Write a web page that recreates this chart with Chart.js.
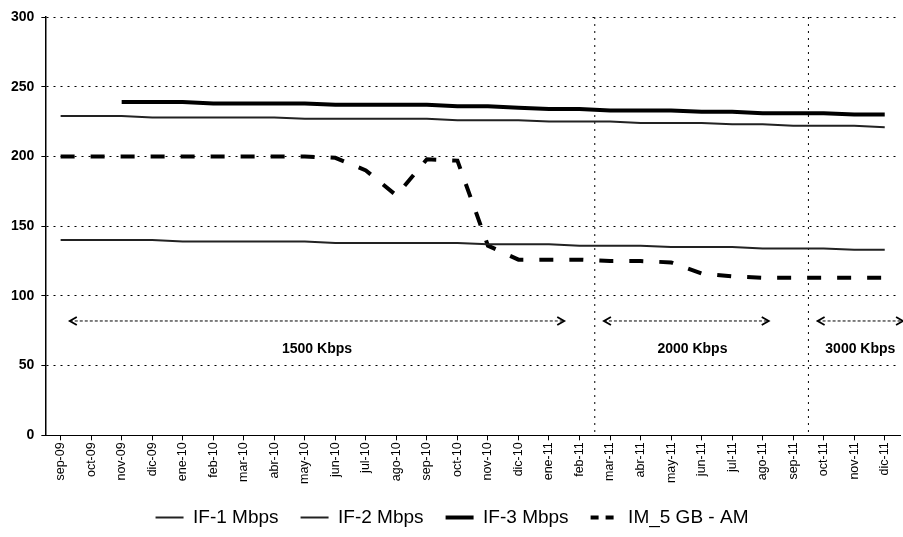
<!DOCTYPE html>
<html>
<head>
<meta charset="utf-8">
<script src="https://cdn.jsdelivr.net/npm/chart.js@4.4.0/dist/chart.umd.min.js"></script>
<style>
  html, body { margin: 0; padding: 0; background: #fff; }
  #wrap { width: 903px; height: 537px; }
</style>
</head>
<body>
<div id="wrap"><canvas id="chart" width="903" height="537"></canvas></div>
<script>
// Months, Sept 2009 to Dec 2011
const months = ['sep-09', 'oct-09', 'nov-09', 'dic-09', 'ene-10', 'feb-10', 'mar-10', 'abr-10',
    'may-10', 'jun-10', 'jul-10', 'ago-10', 'sep-10', 'oct-10', 'nov-10', 'dic-10', 'ene-11',
    'feb-11', 'mar-11', 'abr-11', 'may-11', 'jun-11', 'jul-11', 'ago-11', 'sep-11', 'oct-11',
    'nov-11', 'dic-11'];

const if1 = [229, 229, 229, 228, 228, 228, 228, 228, 227, 227, 227, 227, 227, 226, 226, 226, 225,
    225, 225, 224, 224, 224, 223, 223, 222, 222, 222, 221];
const if2 = [140, 140, 140, 140, 139, 139, 139, 139, 139, 138, 138, 138, 138, 138, 137, 137, 137,
    136, 136, 136, 135, 135, 135, 134, 134, 134, 133, 133];
const if3 = [null, null, 239, 239, 239, 238, 238, 238, 238, 237, 237, 237, 237, 236, 236, 235, 234,
    234, 233, 233, 233, 232, 232, 231, 231, 231, 230, 230];
const im5 = [200, 200, 200, 200, 200, 200, 200, 200, 200, 199, 190, 172, 198, 197, 136, 126, 126,
    126, 125, 125, 124, 116, 114, 113, 113, 113, 113, 113];

const yTicks = [0, 50, 100, 150, 200, 250, 300];

// speed periods (arrows + labels below the lines)
const rateLabels = ['1500 Kbps', '2000 Kbps', '3000 Kbps'];

const FONT = '"Liberation Sans", Arial, sans-serif';

// draws the period separators, the double arrows and the Kbps labels
const periodPlugin = {
    id: 'periods',
    beforeDatasetsDraw(chart) {
        const { ctx, chartArea, scales: { x } } = chart;
        ctx.save();
        ctx.strokeStyle = '#000';
        ctx.lineWidth = 1;
        ctx.setLineDash([2, 5]);
        [17.5, 24.5].forEach(v => {
            const px = x.getPixelForValue(v);
            ctx.beginPath();
            ctx.moveTo(px, chartArea.top);
            ctx.lineTo(px, chartArea.bottom);
            ctx.stroke();
        });
        ctx.restore();
    },
    afterDatasetsDraw(chart) {
        const { ctx, scales: { x, y } } = chart;
        const spans = [[0.3, 16.5, 8.4], [17.8, 23.2, 20.7], [24.8, 27.6, 26.2]];
        const ay = y.getPixelForValue(82);
        const ty = y.getPixelForValue(62);
        ctx.save();
        ctx.strokeStyle = '#000';
        ctx.fillStyle = '#000';
        spans.forEach((s, i) => {
            const x0 = x.getPixelForValue(s[0]);
            const x1 = x.getPixelForValue(s[1]);
            ctx.lineWidth = 1;
            ctx.setLineDash([3, 2]);
            ctx.beginPath();
            ctx.moveTo(x0, ay);
            ctx.lineTo(x1, ay);
            ctx.stroke();
            ctx.setLineDash([]);
            ctx.lineWidth = 1.8;
            ctx.beginPath();
            ctx.moveTo(x0 + 7, ay - 4);
            ctx.lineTo(x0, ay);
            ctx.lineTo(x0 + 7, ay + 4);
            ctx.moveTo(x1 - 7, ay - 4);
            ctx.lineTo(x1, ay);
            ctx.lineTo(x1 - 7, ay + 4);
            ctx.stroke();
            ctx.font = 'bold 14px ' + FONT;
            ctx.textAlign = 'center';
            ctx.textBaseline = 'middle';
            ctx.fillText(rateLabels[i], x.getPixelForValue(s[2]), ty);
        });
        ctx.restore();
    }
};

const ctx = document.getElementById('chart').getContext('2d');

new Chart(ctx, {
    type: 'line',
    data: {
        labels: months,
        datasets: [{
            label: 'IF-1 Mbps',
            data: if1,
            borderColor: '#222',
            backgroundColor: '#222',
            borderWidth: 2,
            pointRadius: 0,
            pointStyle: 'line',
            tension: 0
        }, {
            label: 'IF-2 Mbps',
            data: if2,
            borderColor: '#222',
            backgroundColor: '#222',
            borderWidth: 2,
            pointRadius: 0,
            pointStyle: 'line',
            tension: 0
        }, {
            label: 'IF-3 Mbps',
            data: if3,
            borderColor: '#000',
            backgroundColor: '#000',
            borderWidth: 4,
            pointRadius: 0,
            pointStyle: 'line',
            tension: 0
        }, {
            label: 'IM_5 GB - AM',
            data: im5,
            borderColor: '#000',
            backgroundColor: '#000',
            borderWidth: 4,
            borderDash: [14, 16],
            pointRadius: 0,
            pointStyle: 'line',
            tension: 0
        }]
    },
    options: {
        responsive: false,
        animation: false,
        layout: {
            padding: { top: 17, left: 4, right: 3, bottom: 0 }
        },
        plugins: {
            title: { display: false },
            tooltip: { enabled: false },
            legend: {
                display: true,
                position: 'bottom',
                labels: {
                    usePointStyle: true,
                    pointStyleWidth: 28,
                    boxHeight: 8,
                    color: '#000',
                    padding: 22,
                    font: { family: FONT, size: 19 },
                    generateLabels: (chart) => {
                        const items = Chart.defaults.plugins.legend.labels.generateLabels(chart);
                        items.forEach(item => {
                            const ds = chart.data.datasets[item.datasetIndex];
                            item.lineWidth = ds.borderWidth;
                            item.lineDash = ds.borderDash ? [8, 7] : [];
                        });
                        return items;
                    }
                }
            }
        },
        scales: {
            y: {
                min: 0,
                max: 300,
                afterBuildTicks: (axis) => {
                    axis.ticks = yTicks.map(v => ({ value: v }));
                },
                ticks: {
                    color: '#000',
                    padding: 7,
                    font: { family: FONT, size: 14, weight: 'bold' }
                },
                grid: {
                    color: '#000',
                    lineWidth: 1,
                    tickLength: 4,
                    drawTicks: true
                },
                border: { display: true, color: '#000', width: 1.5, dash: [2, 5] }
            },
            x: {
                offset: true,
                ticks: {
                    color: '#000',
                    minRotation: 90,
                    maxRotation: 90,
                    autoSkip: false,
                    padding: 2,
                    font: { family: FONT, size: 12.5 }
                },
                grid: {
                    display: true,
                    drawOnChartArea: false,
                    drawTicks: true,
                    tickLength: 5,
                    color: '#000'
                },
                border: { display: true, color: '#000', width: 1 }
            }
        }
    },
    plugins: [periodPlugin]
});
</script>
</body>
</html>
